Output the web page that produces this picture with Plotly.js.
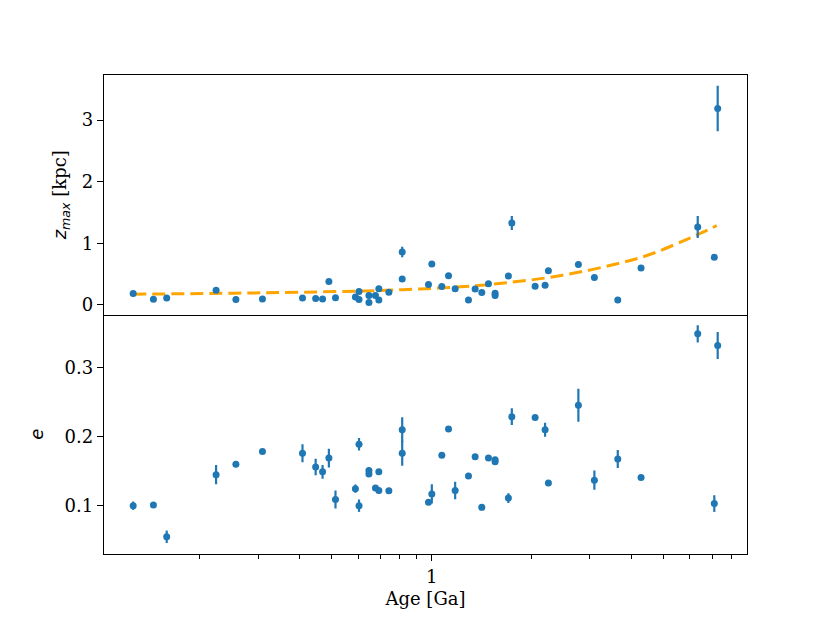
<!DOCTYPE html>
<html>
<head>
<meta charset="utf-8">
<script src="https://cdn.plot.ly/plotly-3.0.1.min.js"></script>
<style>
  html, body { margin: 0; padding: 0; background: #fff; }
  #chart { width: 830px; height: 623px; }
</style>
</head>
<body>
<div id="chart"></div>
<script>
// ===== Data =====
const ages = [0.126, 0.145, 0.159, 0.224, 0.257, 0.309, 0.408, 0.447, 0.469, 0.490,
  0.513, 0.589, 0.604, 0.604, 0.647, 0.647, 0.677, 0.693, 0.693, 0.743,
  0.815, 0.815, 0.978, 1.001, 1.073, 1.124, 1.177, 1.291, 1.352, 1.416,
  1.483, 1.553, 1.553, 1.703, 1.744, 2.050, 2.197, 2.248, 2.768, 3.093,
  3.638, 4.276, 6.337, 7.109, 7.278];

const zmax = [0.183, 0.092, 0.113, 0.238, 0.086, 0.097, 0.113, 0.102, 0.097, 0.378,
  0.118, 0.130, 0.216, 0.086, 0.151, 0.037, 0.151, 0.264, 0.081, 0.205,
  0.859, 0.421, 0.330, 0.665, 0.297, 0.475, 0.264, 0.081, 0.259, 0.200,
  0.345, 0.189, 0.151, 0.470, 1.330, 0.303, 0.319, 0.556, 0.654, 0.443,
  0.081, 0.600, 1.265, 0.773, 3.190];

const zmaxErr = [0.01, 0.01, 0.01, 0.01, 0.01, 0.01, 0.01, 0.01, 0.01, 0.02,
  0.01, 0.01, 0.01, 0.01, 0.01, 0.01, 0.01, 0.01, 0.01, 0.01,
  0.084, 0.02, 0.01, 0.02, 0.01, 0.02, 0.01, 0.01, 0.01, 0.01,
  0.01, 0.01, 0.01, 0.02, 0.114, 0.01, 0.01, 0.02, 0.03, 0.02,
  0.01, 0.02, 0.18, 0.03, 0.37];

const ecc = [0.100, 0.101, 0.055, 0.145, 0.160, 0.1785, 0.176, 0.156, 0.149, 0.169,
  0.109, 0.1246, 0.189, 0.100, 0.151, 0.146, 0.1256, 0.149, 0.122, 0.1217,
  0.210, 0.176, 0.105, 0.117, 0.173, 0.211, 0.122, 0.143, 0.171, 0.0976,
  0.169, 0.1665, 0.1636, 0.111, 0.229, 0.2276, 0.210, 0.1328, 0.2455, 0.137,
  0.1675, 0.141, 0.349, 0.103, 0.332];

const eccErr = [0.006, 0.002, 0.009, 0.014, 0.002, 0.002, 0.013, 0.012, 0.010, 0.0135,
  0.013, 0.006, 0.009, 0.009, 0.002, 0.002, 0.002, 0.002, 0.002, 0.002,
  0.018, 0.018, 0.004, 0.014, 0.002, 0.002, 0.0125, 0.002, 0.002, 0.002,
  0.002, 0.002, 0.002, 0.007, 0.012, 0.002, 0.010, 0.002, 0.024, 0.014,
  0.013, 0.002, 0.0125, 0.012, 0.0195];

// fitted z_max(age) curve
const fitAge = [0.126, 0.253, 0.402, 0.638, 0.924, 1.336, 1.685, 2.223, 2.935, 3.697,
  4.246, 4.879, 5.733, 6.293, 7.228];
const fitZ = [0.173, 0.190, 0.206, 0.227, 0.259, 0.308, 0.360, 0.440, 0.556, 0.680,
  0.765, 0.880, 1.040, 1.135, 1.286];

const majorTicks = [1];
const minorTicks = [0.2, 0.3, 0.4, 0.5, 0.6, 0.7, 0.8, 0.9, 2, 3, 4, 5, 6, 7, 8];

// ===== Style =====
const BLUE = '#1f77b4';
const SERIF = 'DejaVu Serif, serif';
const SANS = 'DejaVu Sans, sans-serif';

const frame = {
  showline: true, linecolor: '#000', linewidth: 1.3, mirror: true,
  showgrid: false, zeroline: false,
  ticks: 'outside', ticklen: 6, tickwidth: 1.2, tickcolor: '#000',
  tickfont: { family: SERIF, size: 18, color: '#000' },
};

const xRange = [Math.log10(0.1029), Math.log10(8.92)];

const points = (y, err, xa, ya) => ({
  x: ages, y, xaxis: xa, yaxis: ya,
  type: 'scatter', mode: 'markers',
  marker: { color: BLUE, size: 7 },
  error_y: { type: 'data', array: err, visible: true, color: BLUE, thickness: 2.2, width: 0 },
  hoverinfo: 'x+y',
});

const traces = [
  {
    x: fitAge, y: fitZ, xaxis: 'x2', yaxis: 'y',
    type: 'scatter', mode: 'lines',
    line: { color: '#FFA500', width: 3, dash: '13px,6px', shape: 'spline' },
  },
  points(zmax, zmaxErr, 'x2', 'y'),
  points(ecc, eccErr, 'x', 'y2'),
];

const layout = {
  width: 830, height: 623,
  paper_bgcolor: '#fff', plot_bgcolor: '#fff',
  margin: { l: 104, r: 83, t: 75, b: 69 },
  showlegend: false,
  font: { family: SERIF, size: 18, color: '#000' },
  xaxis: {
    ...frame, type: 'log', range: xRange, anchor: 'y2', mirror: false,
    tickmode: 'array', tickvals: majorTicks, ticktext: ['1'],
    minor: { tickmode: 'array', tickvals: minorTicks, ticks: 'outside', ticklen: 3.6, tickwidth: 1, tickcolor: '#000' },
    title: { text: 'Age [Ga]', font: { family: SERIF, size: 18 }, standoff: 6 },
  },
  xaxis2: {
    ...frame, type: 'log', range: xRange, anchor: 'y', matches: 'x',
    ticks: '', showticklabels: false,
  },
  yaxis: {
    ...frame, domain: [0.5, 1], anchor: 'x2', range: [-0.156, 3.733],
    tickmode: 'array', tickvals: [0, 1, 2, 3],
    title: {
      text: '<span style="font-family:DejaVu Sans"><i>z</i><sub><i>max</i></sub></span> [kpc]',
      font: { family: SERIF, size: 18 }, standoff: 10,
    },
  },
  yaxis2: {
    ...frame, domain: [0, 0.5], anchor: 'x', range: [0.030, 0.377],
    tickmode: 'array', tickvals: [0.1, 0.2, 0.3], ticktext: ['0.1', '0.2', '0.3'],
    title: { text: '<i>e</i>', font: { family: SANS, size: 18 }, standoff: 16 },
  },
};

Plotly.newPlot('chart', traces, layout, { displayModeBar: false, staticPlot: true });
</script>
</body>
</html>
